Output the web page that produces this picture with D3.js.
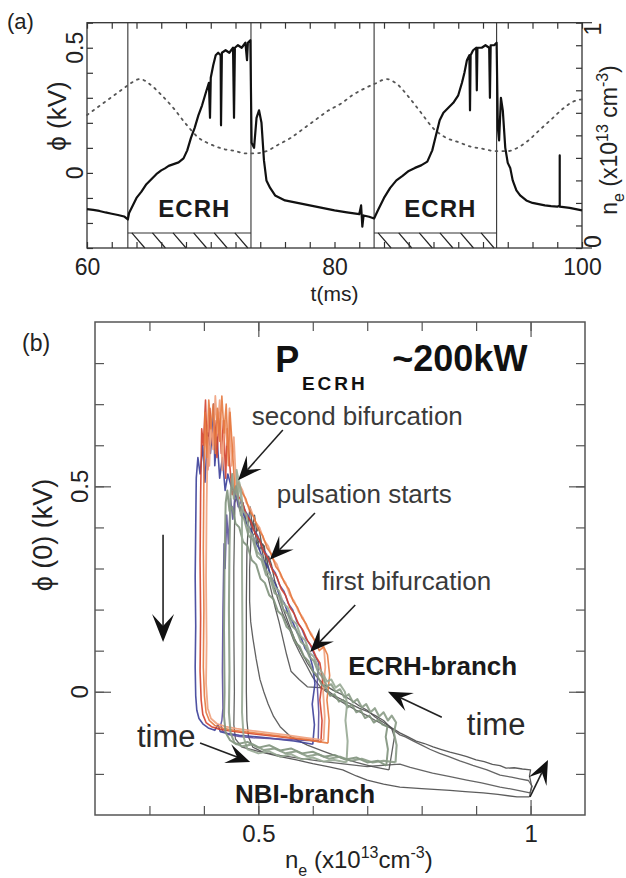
<!DOCTYPE html>
<html>
<head>
<meta charset="utf-8">
<script src="https://cdn.jsdelivr.net/npm/d3@7"></script>
<style>
  body { margin: 0; background: #fff; }
  svg { display: block; font-family: "Liberation Sans", Arial, sans-serif; }
</style>
</head>
<body>
<svg id="chart" width="626" height="878"></svg>
<script>
// ---------------- data: panel (a) ----------------
const timeTicks = [60, 80, 100];
const phiTicksA = [0, 0.5];
const neTicks = [0, 1];
const ecrhWindows = [[63.3, 73.25], [83.2, 93.1]];

// phi(t) in kV
const phiTrace = [
  [60.0,-0.145],[60.5,-0.148],[61.0,-0.152],[61.5,-0.158],[62.0,-0.163],[62.5,-0.168],[63.0,-0.174],[63.3,-0.186],
  [63.4,-0.16],[63.7,-0.13],[64.0,-0.10],[64.4,-0.075],[64.8,-0.045],[65.2,-0.025],[65.6,-0.005],[66.0,0.01],
  [66.3,0.018],[66.6,0.028],[67.0,0.035],[67.4,0.042],[67.8,0.058],[68.1,0.09],[68.4,0.14],[68.7,0.18],
  [69.0,0.23],[69.3,0.27],[69.6,0.32],[69.85,0.36],[69.94,0.22],[70.0,0.38],[70.2,0.43],[70.4,0.47],
  [70.6,0.48],[70.8,0.47],[70.83,0.19],[70.9,0.48],[71.2,0.49],[71.5,0.48],[71.8,0.50],[71.88,0.22],
  [71.95,0.50],[72.2,0.51],[72.5,0.50],[72.8,0.52],[72.93,0.45],[73.0,0.52],[73.2,0.53],[73.3,0.12],
  [73.5,0.10],[73.7,0.22],[73.9,0.25],[74.1,0.20],[74.3,0.05],[74.5,-0.03],[74.8,-0.06],[75.2,-0.09],
  [75.6,-0.10],[76.0,-0.11],[76.5,-0.115],[77.0,-0.12],[77.5,-0.125],[78.0,-0.13],[79.0,-0.14],[80.0,-0.15],
  [81.0,-0.158],[82.0,-0.165],[82.15,-0.13],[82.25,-0.215],[82.35,-0.17],[82.8,-0.175],[83.2,-0.182],
  [83.5,-0.15],[84.0,-0.10],[84.5,-0.06],[85.0,-0.03],[85.5,-0.012],[86.0,0.008],[86.5,0.02],[87.0,0.03],
  [87.5,0.045],[87.9,0.09],[88.2,0.15],[88.5,0.21],[88.8,0.24],[89.2,0.26],[89.6,0.28],[90.0,0.31],
  [90.3,0.36],[90.5,0.40],[90.7,0.45],[90.9,0.47],[90.95,0.25],[91.0,0.47],[91.2,0.49],[91.45,0.50],
  [91.5,0.33],[91.55,0.50],[91.9,0.50],[92.2,0.51],[92.5,0.50],[92.56,0.30],[92.62,0.51],[92.9,0.51],
  [93.1,0.52],[93.2,0.18],[93.3,0.13],[93.45,0.30],[93.6,0.25],[93.8,0.10],[94.0,0.04],[94.2,0.02],
  [94.4,-0.03],[94.7,-0.07],[95.0,-0.09],[95.5,-0.11],[96.0,-0.12],[96.5,-0.125],[97.0,-0.13],[97.5,-0.133],
  [98.0,-0.135],[98.2,-0.13],[98.2,0.07],[98.2,-0.135],[99.0,-0.14],[99.5,-0.145],[100.0,-0.15]
];

// n_e(t) in 1e13 cm^-3
const densityTrace = [
  [60,0.59],[61,0.63],[62,0.67],[63,0.71],[63.5,0.73],[64.3,0.75],[65,0.73],[66,0.68],[67,0.62],
  [68,0.55],[69,0.49],[70,0.46],[71,0.44],[72,0.43],[72.8,0.42],[73.5,0.42],[74.5,0.43],[75.5,0.46],
  [76.5,0.49],[77.5,0.53],[78.5,0.57],[79.5,0.61],[80.5,0.64],[81.5,0.68],[82.5,0.71],[83.3,0.73],
  [84.2,0.75],[85,0.73],[86,0.67],[87,0.60],[88,0.53],[89,0.49],[90,0.47],[91,0.45],[92,0.44],
  [93,0.43],[94,0.43],[94.6,0.44],[95.5,0.47],[96.5,0.52],[97.5,0.57],[98.5,0.62],[99.3,0.65],[100,0.66]
];

// ---------------- data: panel (b) ----------------
const densityTicks = [0.5, 1];
const phiTicksB = [0, 0.5];

const traceBlue = [[0.600,-0.128],[0.603,-0.08],[0.599,-0.03],[0.604,0.02],[0.600,0.06],[0.594,0.09],[0.586,0.105],[0.579,0.13],[0.571,0.145],[0.563,0.17],[0.556,0.185],[0.548,0.215],[0.540,0.23],[0.532,0.26],[0.525,0.275],[0.517,0.305],[0.509,0.32],[0.501,0.35],[0.494,0.365],[0.486,0.395],[0.478,0.41],[0.471,0.44],[0.464,0.455],[0.457,0.485],[0.450,0.50],[0.444,0.53],[0.439,0.49],[0.434,0.57],[0.429,0.52],[0.424,0.62],[0.420,0.55],[0.418,0.70],[0.416,0.64],[0.412,0.58],[0.407,0.63],[0.402,0.51],[0.398,0.60],[0.393,0.53],[0.389,0.57],[0.386,0.52],[0.385,0.40],[0.384,0.28],[0.385,0.16],[0.384,0.06],[0.385,-0.01],[0.387,-0.045],[0.391,-0.065],[0.398,-0.078],[0.408,-0.088],[0.420,-0.094],[0.426,-0.08],[0.430,-0.097],[0.445,-0.102],[0.465,-0.106],[0.49,-0.109],[0.515,-0.112],[0.54,-0.116],[0.565,-0.12],[0.585,-0.124],[0.600,-0.128]];

const tracePurple = [[0.610,-0.12],[0.611,-0.05],[0.608,0.02],[0.611,0.07],[0.603,0.09],[0.595,0.115],[0.587,0.13],[0.579,0.155],[0.571,0.17],[0.563,0.20],[0.555,0.215],[0.547,0.245],[0.539,0.26],[0.531,0.29],[0.523,0.305],[0.515,0.335],[0.507,0.35],[0.499,0.38],[0.491,0.395],[0.483,0.425],[0.476,0.44],[0.469,0.465],[0.463,0.45],[0.458,0.49],[0.453,0.42],[0.449,0.47],[0.445,0.36],[0.442,0.43],[0.439,0.30],[0.437,0.36],[0.435,0.20],[0.434,0.05],[0.435,-0.04],[0.433,-0.07],[0.431,-0.08],[0.434,-0.095],[0.445,-0.104],[0.465,-0.109],[0.49,-0.112],[0.52,-0.114],[0.55,-0.116],[0.58,-0.118],[0.610,-0.12]];

const traceRed = [[0.615,-0.122],[0.617,-0.07],[0.613,-0.02],[0.618,0.03],[0.613,0.07],[0.606,0.085],[0.598,0.11],[0.590,0.125],[0.582,0.15],[0.574,0.165],[0.566,0.19],[0.558,0.205],[0.550,0.235],[0.542,0.25],[0.534,0.28],[0.526,0.295],[0.518,0.325],[0.510,0.34],[0.502,0.37],[0.494,0.385],[0.486,0.415],[0.478,0.43],[0.471,0.46],[0.464,0.475],[0.458,0.50],[0.452,0.48],[0.447,0.56],[0.443,0.64],[0.440,0.52],[0.436,0.66],[0.432,0.58],[0.428,0.68],[0.424,0.57],[0.420,0.66],[0.416,0.60],[0.411,0.69],[0.407,0.54],[0.403,0.71],[0.399,0.60],[0.396,0.64],[0.394,0.48],[0.393,0.32],[0.394,0.18],[0.393,0.05],[0.395,-0.02],[0.398,-0.055],[0.404,-0.075],[0.414,-0.085],[0.428,-0.091],[0.445,-0.095],[0.47,-0.099],[0.50,-0.104],[0.53,-0.108],[0.56,-0.113],[0.59,-0.117],[0.615,-0.122]];

const traceSalmon = [[0.620,-0.118],[0.622,-0.06],[0.619,0.0],[0.623,0.06],[0.621,0.1],[0.614,0.12],[0.606,0.115],[0.598,0.14],[0.590,0.155],[0.582,0.18],[0.574,0.195],[0.566,0.22],[0.558,0.235],[0.550,0.265],[0.542,0.28],[0.534,0.31],[0.526,0.325],[0.518,0.355],[0.510,0.37],[0.502,0.40],[0.494,0.415],[0.486,0.445],[0.478,0.46],[0.471,0.49],[0.465,0.505],[0.460,0.48],[0.455,0.62],[0.451,0.55],[0.447,0.69],[0.443,0.60],[0.438,0.66],[0.434,0.54],[0.429,0.71],[0.425,0.63],[0.421,0.72],[0.417,0.59],[0.413,0.66],[0.410,0.55],[0.407,0.62],[0.405,0.45],[0.404,0.28],[0.405,0.12],[0.404,0.02],[0.407,-0.04],[0.413,-0.065],[0.424,-0.078],[0.44,-0.085],[0.46,-0.09],[0.49,-0.095],[0.52,-0.1],[0.55,-0.105],[0.585,-0.112],[0.620,-0.118]];

const traceOrange = [[0.628,-0.125],[0.630,-0.07],[0.626,-0.02],[0.631,0.04],[0.627,0.09],[0.620,0.11],[0.612,0.1],[0.604,0.125],[0.596,0.14],[0.588,0.165],[0.580,0.18],[0.572,0.205],[0.564,0.22],[0.556,0.25],[0.548,0.265],[0.540,0.29],[0.532,0.305],[0.524,0.335],[0.516,0.35],[0.508,0.38],[0.500,0.395],[0.492,0.425],[0.484,0.44],[0.477,0.47],[0.470,0.485],[0.463,0.51],[0.457,0.49],[0.452,0.60],[0.448,0.68],[0.445,0.55],[0.441,0.70],[0.437,0.63],[0.433,0.72],[0.429,0.61],[0.425,0.69],[0.421,0.58],[0.417,0.70],[0.413,0.64],[0.409,0.71],[0.405,0.57],[0.402,0.68],[0.400,0.52],[0.399,0.35],[0.400,0.2],[0.399,0.06],[0.401,-0.01],[0.404,-0.05],[0.410,-0.07],[0.42,-0.082],[0.435,-0.089],[0.455,-0.094],[0.48,-0.098],[0.51,-0.103],[0.54,-0.108],[0.57,-0.113],[0.60,-0.119],[0.628,-0.125]];

const traceGreyA = [[0.998,-0.256],[1.002,-0.23],[0.998,-0.205],[1.0,-0.19],[0.985,-0.188],[0.97,-0.185],[0.955,-0.186],[0.944,-0.18],[0.93,-0.177],[0.915,-0.17],[0.9,-0.166],[0.883,-0.158],[0.87,-0.153],[0.852,-0.147],[0.835,-0.14],[0.821,-0.134],[0.805,-0.126],[0.79,-0.12],[0.775,-0.11],[0.76,-0.1],[0.745,-0.088],[0.73,-0.075],[0.715,-0.062],[0.70,-0.045],[0.685,-0.034],[0.67,-0.02],[0.655,-0.008],[0.637,0.004],[0.62,0.018],[0.605,0.04],[0.59,0.07],[0.578,0.1],[0.566,0.13],[0.556,0.165],[0.546,0.2],[0.538,0.24],[0.530,0.27],[0.524,0.31],[0.519,0.33],[0.515,0.30],[0.511,0.355],[0.506,0.36],[0.501,0.40],[0.497,0.39],[0.493,0.43],[0.489,0.40],[0.485,0.45],[0.482,0.42],[0.479,0.34],[0.478,0.22],[0.478,0.1],[0.478,0.0],[0.479,-0.07],[0.482,-0.11],[0.49,-0.135],[0.51,-0.148],[0.54,-0.158],[0.57,-0.166],[0.60,-0.175],[0.63,-0.183],[0.655,-0.19],[0.68,-0.205],[0.70,-0.215],[0.73,-0.225],[0.76,-0.232],[0.80,-0.236],[0.852,-0.24],[0.88,-0.243],[0.913,-0.246],[0.94,-0.25],[0.975,-0.256],[0.998,-0.256]];

const traceGreyB = [[0.999,-0.246],[1.003,-0.23],[0.996,-0.216],[0.98,-0.212],[0.965,-0.208],[0.944,-0.203],[0.92,-0.19],[0.894,-0.179],[0.87,-0.168],[0.85,-0.158],[0.833,-0.15],[0.815,-0.14],[0.80,-0.13],[0.785,-0.12],[0.77,-0.11],[0.76,-0.105],[0.745,-0.09],[0.73,-0.08],[0.715,-0.07],[0.70,-0.058],[0.68,-0.045],[0.66,-0.03],[0.645,-0.018],[0.63,-0.005],[0.615,0.01],[0.60,0.035],[0.588,0.065],[0.576,0.095],[0.565,0.125],[0.555,0.16],[0.545,0.19],[0.536,0.225],[0.528,0.26],[0.521,0.29],[0.514,0.33],[0.508,0.36],[0.502,0.345],[0.496,0.39],[0.49,0.38],[0.484,0.42],[0.478,0.41],[0.472,0.46],[0.466,0.44],[0.461,0.48],[0.457,0.46],[0.455,0.30],[0.455,0.15],[0.456,0.0],[0.455,-0.08],[0.458,-0.115],[0.47,-0.135],[0.50,-0.145],[0.54,-0.155],[0.58,-0.163],[0.62,-0.17],[0.66,-0.176],[0.70,-0.182],[0.74,-0.178],[0.76,-0.176],[0.779,-0.184],[0.82,-0.198],[0.85,-0.206],[0.883,-0.215],[0.91,-0.222],[0.944,-0.232],[0.97,-0.238],[0.999,-0.246]];

const traceGreyC = [[0.74,-0.19],[0.745,-0.15],[0.75,-0.11],[0.745,-0.09],[0.73,-0.07],[0.715,-0.058],[0.70,-0.048],[0.685,-0.04],[0.67,-0.03],[0.655,-0.02],[0.64,-0.01],[0.625,0.005],[0.613,0.01],[0.59,0.012],[0.575,0.03],[0.56,0.05],[0.552,0.09],[0.545,0.13],[0.538,0.17],[0.53,0.21],[0.523,0.25],[0.516,0.29],[0.509,0.33],[0.503,0.37],[0.497,0.36],[0.492,0.41],[0.487,0.39],[0.484,0.30],[0.484,0.22],[0.486,0.17],[0.49,0.13],[0.496,0.08],[0.503,0.03],[0.51,0.0],[0.518,-0.03],[0.528,-0.06],[0.54,-0.085],[0.56,-0.11],[0.59,-0.13],[0.62,-0.145],[0.65,-0.16],[0.68,-0.172],[0.71,-0.182],[0.74,-0.19]];

const traceGreenA = [[0.752,-0.172],[0.754,-0.13],[0.749,-0.10],[0.753,-0.075],[0.745,-0.058],[0.738,-0.07],[0.730,-0.05],[0.722,-0.06],[0.714,-0.04],[0.706,-0.05],[0.698,-0.03],[0.690,-0.038],[0.682,-0.018],[0.674,-0.026],[0.666,-0.006],[0.658,-0.014],[0.650,0.006],[0.642,0.0],[0.634,0.018],[0.626,0.014],[0.618,0.035],[0.610,0.048],[0.602,0.075],[0.594,0.085],[0.586,0.112],[0.578,0.122],[0.570,0.15],[0.562,0.16],[0.554,0.19],[0.546,0.2],[0.538,0.232],[0.530,0.24],[0.522,0.275],[0.514,0.285],[0.506,0.32],[0.498,0.33],[0.490,0.37],[0.482,0.38],[0.474,0.42],[0.468,0.43],[0.463,0.47],[0.459,0.50],[0.455,0.47],[0.452,0.53],[0.449,0.48],[0.447,0.35],[0.446,0.2],[0.447,0.05],[0.446,-0.05],[0.449,-0.1],[0.456,-0.124],[0.47,-0.133],[0.49,-0.128],[0.51,-0.142],[0.53,-0.138],[0.55,-0.15],[0.57,-0.145],[0.59,-0.157],[0.61,-0.152],[0.63,-0.163],[0.65,-0.158],[0.67,-0.168],[0.69,-0.163],[0.71,-0.172],[0.73,-0.168],[0.752,-0.172]];

const traceGreenB = [[0.662,-0.172],[0.664,-0.12],[0.66,-0.07],[0.663,-0.03],[0.659,0.0],[0.650,0.018],[0.642,0.01],[0.634,0.03],[0.626,0.025],[0.618,0.045],[0.610,0.06],[0.602,0.085],[0.594,0.095],[0.586,0.125],[0.578,0.135],[0.570,0.165],[0.562,0.175],[0.554,0.205],[0.546,0.215],[0.538,0.245],[0.530,0.255],[0.522,0.285],[0.514,0.295],[0.506,0.33],[0.498,0.34],[0.490,0.38],[0.484,0.39],[0.478,0.43],[0.472,0.44],[0.468,0.49],[0.465,0.51],[0.462,0.47],[0.460,0.54],[0.466,0.50],[0.470,0.45],[0.470,0.3],[0.471,0.1],[0.47,-0.05],[0.473,-0.11],[0.48,-0.14],[0.5,-0.15],[0.52,-0.145],[0.54,-0.158],[0.56,-0.152],[0.58,-0.165],[0.60,-0.16],[0.62,-0.17],[0.64,-0.166],[0.662,-0.172]];

const traceGreenC = [[0.735,-0.18],[0.738,-0.14],[0.734,-0.11],[0.737,-0.085],[0.728,-0.08],[0.720,-0.068],[0.712,-0.075],[0.704,-0.058],[0.696,-0.064],[0.688,-0.045],[0.680,-0.05],[0.672,-0.032],[0.664,-0.038],[0.656,-0.02],[0.648,-0.024],[0.640,-0.006],[0.632,-0.01],[0.624,0.01],[0.616,0.018],[0.608,0.04],[0.600,0.05],[0.592,0.075],[0.584,0.085],[0.576,0.11],[0.568,0.12],[0.560,0.148],[0.552,0.158],[0.544,0.186],[0.536,0.196],[0.528,0.225],[0.520,0.235],[0.512,0.265],[0.504,0.275],[0.496,0.31],[0.488,0.32],[0.480,0.355],[0.472,0.365],[0.465,0.40],[0.458,0.41],[0.452,0.45],[0.447,0.44],[0.443,0.49],[0.440,0.46],[0.438,0.32],[0.437,0.15],[0.438,0.0],[0.437,-0.06],[0.44,-0.1],[0.448,-0.118],[0.46,-0.128],[0.48,-0.122],[0.50,-0.136],[0.52,-0.13],[0.54,-0.143],[0.56,-0.138],[0.58,-0.15],[0.60,-0.146],[0.62,-0.158],[0.64,-0.154],[0.66,-0.165],[0.68,-0.16],[0.70,-0.172],[0.72,-0.168],[0.735,-0.18]];

// drawing order: greys at the back, greens on top
const loops = [
  { pts: traceGreyA, color: '#4a4a4a', w: 1.3 },
  { pts: traceGreyB, color: '#545454', w: 1.3 },
  { pts: traceGreyC, color: '#505050', w: 1.3 },
  { pts: traceBlue, color: '#3b3f99', w: 1.6 },
  { pts: tracePurple, color: '#5b4f9c', w: 1.5 },
  { pts: traceRed, color: '#d3402c', w: 1.6 },
  { pts: traceSalmon, color: '#f0a07c', w: 1.8 },
  { pts: traceOrange, color: '#e6783e', w: 1.6 },
  { pts: traceGreenC, color: '#7f927c', w: 2 },
  { pts: traceGreenB, color: '#97a894', w: 2 },
  { pts: traceGreenA, color: '#899b86', w: 2.1 }
];

// annotations, anchored in data units (n_e, phi)
const notesB = [
  { text: 'second bifurcation', n: 0.488, phi: 0.649, size: 26, weight: 'normal', fill: '#3a3a3a' },
  { text: 'pulsation starts', n: 0.534, phi: 0.459, size: 26, weight: 'normal', fill: '#3a3a3a' },
  { text: 'first bifurcation', n: 0.617, phi: 0.248, size: 26, weight: 'normal', fill: '#3a3a3a' },
  { text: 'ECRH-branch', n: 0.665, phi: 0.041, size: 26, weight: 'bold', fill: '#1a1a1a' },
  { text: 'time', n: 0.883, phi: -0.105, size: 31, weight: 'normal', fill: '#2a2a2a' },
  { text: 'time', n: 0.277, phi: -0.134, size: 31, weight: 'normal', fill: '#2a2a2a' },
  { text: 'NBI-branch', n: 0.457, phi: -0.271, size: 26, weight: 'bold', fill: '#1a1a1a' }
];
const arrowsB = [
  { from: [0.325, 0.382], to: [0.325, 0.121], big: true },
  { from: [0.545, 0.637], to: [0.463, 0.515] },
  { from: [0.604, 0.435], to: [0.521, 0.321] },
  { from: [0.678, 0.211], to: [0.595, 0.097] },
  { from: [0.837, -0.062], to: [0.738, 0.0] },
  { from: [0.393, -0.125], to: [0.485, -0.171] },
  { from: [0.999, -0.256], to: [1.032, -0.166] }
];

const svg = d3.select('#chart');

function arrow(g, x1, y1, x2, y2, big) {
  const L = big ? 28 : 24, W = big ? 11 : 10, N = big ? 16 : 14;
  const ang = Math.atan2(y2 - y1, x2 - x1);
  g.append('line')
    .attr('x1', x1).attr('y1', y1)
    .attr('x2', x2 - Math.cos(ang) * N).attr('y2', y2 - Math.sin(ang) * N)
    .attr('stroke', '#222').attr('stroke-width', 1.6);
  g.append('path')
    .attr('d', `M0,0 L${-L},${-W} L${-N},0 L${-L},${W} Z`)
    .attr('transform', `translate(${x2},${y2}) rotate(${ang * 180 / Math.PI})`)
    .attr('fill', '#111');
}

function styleAxis(sel, color) {
  sel.select('.domain').remove();
  sel.selectAll('line').attr('stroke', color).attr('stroke-width', 1.2);
  sel.selectAll('text').attr('font-family', null).attr('fill', '#222');
}

// ================= panel (a) =================
const xA = d3.scaleLinear().domain([60, 100]).range([87, 582]);
const yA = d3.scaleLinear().domain([-0.3, 0.6]).range([248, 22.7]);
const yNe = d3.scaleLinear().domain([0, 1]).range([248, 22.7]);
const gA = svg.append('g');

gA.append('text').attr('x', 7).attr('y', 29).attr('font-size', 22).attr('fill', '#222').text('(a)');

// ECRH windows, hatched power bars
ecrhWindows.forEach(([on, off]) => {
  const x0 = xA(on), x1 = xA(off), top = yA(-0.24), bot = yA(-0.3);
  [x0, x1].forEach(x => gA.append('line')
    .attr('x1', x).attr('x2', x).attr('y1', yA(0.6)).attr('y2', bot)
    .attr('stroke', '#333').attr('stroke-width', 1.1));
  gA.append('line').attr('x1', x0).attr('x2', x1).attr('y1', top).attr('y2', top)
    .attr('stroke', '#333').attr('stroke-width', 1.2);
  for (let x = x0 + 4; x + 13 <= x1 + 1; x += 20.6) {
    gA.append('line').attr('x1', x).attr('y1', top).attr('x2', x + 13).attr('y2', bot)
      .attr('stroke', '#222').attr('stroke-width', 1.2);
  }
  gA.append('text')
    .attr('x', xA((on + off) / 2 + 0.4)).attr('y', yA(-0.178))
    .attr('text-anchor', 'middle').attr('font-size', 24).attr('font-weight', 'bold')
    .attr('letter-spacing', 1).attr('fill', '#1a1a1a').text('ECRH');
});

const minorT = d3.range(60, 101, 2);
const minorPhiA = d3.range(-3, 7).map(i => i / 10);
const minorNe = d3.range(0, 11).map(i => i / 10);

gA.append('g').attr('transform', `translate(0,${yA(-0.3)})`)
  .call(d3.axisBottom(xA).tickValues(minorT).tickSize(-6).tickSizeOuter(0).tickPadding(11)
    .tickFormat(d => timeTicks.includes(d) ? d : ''))
  .call(s => styleAxis(s, '#333'))
  .selectAll('text').attr('font-size', 23);
gA.append('g').attr('transform', `translate(0,${yA(0.6)})`)
  .call(d3.axisTop(xA).tickValues(minorT).tickSize(-6).tickSizeOuter(0).tickFormat(''))
  .call(s => styleAxis(s, '#333'));
gA.append('g').attr('transform', `translate(${xA(60)},0)`)
  .call(d3.axisLeft(yA).tickValues(minorPhiA).tickSize(-6).tickSizeOuter(0).tickFormat(''))
  .call(s => styleAxis(s, '#333'));
gA.append('g').attr('transform', `translate(${xA(100)},0)`)
  .call(d3.axisRight(yNe).tickValues(minorNe).tickSize(-6).tickSizeOuter(0).tickFormat(''))
  .call(s => styleAxis(s, '#333'));
neTicks.forEach(v => gA.append('line')
  .attr('x1', xA(100)).attr('x2', xA(100) + 10).attr('y1', yNe(v)).attr('y2', yNe(v))
  .attr('stroke', '#333').attr('stroke-width', 1.2));

gA.append('rect')
  .attr('x', xA(60)).attr('y', yA(0.6))
  .attr('width', xA(100) - xA(60)).attr('height', yA(-0.3) - yA(0.6))
  .attr('fill', 'none').attr('stroke', '#333').attr('stroke-width', 1.3);

phiTicksA.forEach(v => gA.append('text')
  .attr('transform', `translate(83,${yA(v)}) rotate(-90)`)
  .attr('text-anchor', 'middle').attr('font-size', 23).attr('fill', '#222').text(v));
neTicks.forEach(v => gA.append('text')
  .attr('transform', `translate(601,${yNe(v)}) rotate(-90)`)
  .attr('text-anchor', v === 0 ? 'start' : 'end').attr('font-size', 23).attr('fill', '#222').text(v));

gA.append('text').attr('x', xA(80)).attr('y', 301).attr('text-anchor', 'middle')
  .attr('font-size', 21).attr('fill', '#222').text('t(ms)');
gA.append('text').attr('transform', 'translate(66,116) rotate(-90)')
  .attr('text-anchor', 'middle').attr('font-size', 26).attr('fill', '#222').text('\u03D5 (kV)');

const neLabel = gA.append('text').attr('transform', 'translate(617,140) rotate(-90)')
  .attr('text-anchor', 'middle').attr('font-size', 23).attr('fill', '#222');
neLabel.append('tspan').text('n');
neLabel.append('tspan').attr('font-size', 16).attr('dy', 7).text('e');
neLabel.append('tspan').attr('dy', -7).text(' (x10');
neLabel.append('tspan').attr('font-size', 16).attr('dy', -9).text('13');
neLabel.append('tspan').attr('dy', 9).text(' cm');
neLabel.append('tspan').attr('font-size', 16).attr('dy', -9).text('-3');
neLabel.append('tspan').attr('dy', 9).text(')');

gA.append('path').datum(densityTrace)
  .attr('d', d3.line().x(d => xA(d[0])).y(d => yNe(d[1])).curve(d3.curveMonotoneX))
  .attr('fill', 'none').attr('stroke', '#555').attr('stroke-width', 1.8)
  .attr('stroke-dasharray', '1.8,5').attr('stroke-linecap', 'round');
gA.append('path').datum(phiTrace)
  .attr('d', d3.line().x(d => xA(d[0])).y(d => yA(d[1])))
  .attr('fill', 'none').attr('stroke', '#111').attr('stroke-width', 2.2)
  .attr('stroke-linejoin', 'round');

// ================= panel (b) =================
const xB = d3.scaleLinear().domain([0.2, 1.1]).range([95, 585]);
const yB = d3.scaleLinear().domain([-0.3, 0.9]).range([815, 322]);
const gB = svg.append('g');

gB.append('text').attr('x', 22).attr('y', 351).attr('font-size', 23).attr('fill', '#222').text('(b)');

svg.append('clipPath').attr('id', 'clipB').append('rect')
  .attr('x', xB(0.2)).attr('y', yB(0.9)).attr('width', xB(1.1) - xB(0.2)).attr('height', yB(-0.3) - yB(0.9));

const minorN = d3.range(3, 11).map(i => i / 10);
const minorPhiB = d3.range(-2, 9).map(i => i / 10);

[[d3.axisBottom, xB, minorN, densityTicks, yB(-0.3), true],
 [d3.axisTop, xB, minorN, densityTicks, yB(0.9), false]].forEach(([ax, sc, minor, major, y, lab]) => {
  gB.append('g').attr('transform', `translate(0,${y})`)
    .call(ax(sc).tickValues(minor).tickSize(-9).tickSizeOuter(0).tickFormat(''))
    .call(s => styleAxis(s, '#555'));
  gB.append('g').attr('transform', `translate(0,${y})`)
    .call(ax(sc).tickValues(major).tickSize(-15).tickSizeOuter(0).tickPadding(10)
      .tickFormat(d => lab ? d : ''))
    .call(s => styleAxis(s, '#555'))
    .selectAll('text').attr('font-size', 24);
});
[[d3.axisLeft, xB(0.2)], [d3.axisRight, xB(1.1)]].forEach(([ax, x]) => {
  gB.append('g').attr('transform', `translate(${x},0)`)
    .call(ax(yB).tickValues(minorPhiB).tickSize(-9).tickSizeOuter(0).tickFormat(''))
    .call(s => styleAxis(s, '#555'));
  gB.append('g').attr('transform', `translate(${x},0)`)
    .call(ax(yB).tickValues(phiTicksB).tickSize(-16).tickSizeOuter(0).tickFormat(''))
    .call(s => styleAxis(s, '#555'));
});
gB.append('rect')
  .attr('x', xB(0.2)).attr('y', yB(0.9))
  .attr('width', xB(1.1) - xB(0.2)).attr('height', yB(-0.3) - yB(0.9))
  .attr('fill', 'none').attr('stroke', '#555').attr('stroke-width', 1.5);

phiTicksB.forEach(v => gB.append('text')
  .attr('transform', `translate(88,${yB(v)}) rotate(-90)`)
  .attr('text-anchor', 'middle').attr('font-size', 24).attr('fill', '#222').text(v));

gB.append('text').attr('transform', 'translate(52,535) rotate(-90)')
  .attr('text-anchor', 'middle').attr('font-size', 27).attr('fill', '#222').text('\u03D5 (0) (kV)');

const nxLabel = gB.append('text').attr('x', 285).attr('y', 868).attr('font-size', 24).attr('fill', '#222');
nxLabel.append('tspan').text('n');
nxLabel.append('tspan').attr('font-size', 16).attr('dy', 8).text('e');
nxLabel.append('tspan').attr('dy', -8).text(' (x10');
nxLabel.append('tspan').attr('font-size', 16).attr('dy', -10).text('13');
nxLabel.append('tspan').attr('dy', 10).text('cm');
nxLabel.append('tspan').attr('font-size', 16).attr('dy', -10).text('-3');
nxLabel.append('tspan').attr('dy', 10).text(')');

const lineB = d3.line().x(d => xB(d[0])).y(d => yB(d[1]));
const traceG = gB.append('g').attr('clip-path', 'url(#clipB)');
loops.forEach(l => traceG.append('path').datum(l.pts)
  .attr('d', lineB).attr('fill', 'none').attr('stroke', l.color)
  .attr('stroke-width', l.w).attr('stroke-linejoin', 'round').attr('opacity', 0.9));

// title
gB.append('text').attr('x', xB(0.531)).attr('y', yB(0.778)).attr('font-size', 36)
  .attr('font-weight', 'bold').attr('fill', '#111').text('P');
gB.append('text').attr('x', xB(0.580)).attr('y', yB(0.735)).attr('font-size', 19)
  .attr('font-weight', 'bold').attr('letter-spacing', 3).attr('fill', '#111').text('ECRH');
gB.append('text').attr('x', xB(0.746)).attr('y', yB(0.781)).attr('font-size', 36)
  .attr('font-weight', 'bold').attr('fill', '#111').text('~200kW');

notesB.forEach(d => gB.append('text')
  .attr('x', xB(d.n)).attr('y', yB(d.phi)).attr('font-size', d.size)
  .attr('font-weight', d.weight).attr('fill', d.fill).text(d.text));

arrowsB.forEach(a => arrow(gB, xB(a.from[0]), yB(a.from[1]), xB(a.to[0]), yB(a.to[1]), a.big));
</script>
</body>
</html>
